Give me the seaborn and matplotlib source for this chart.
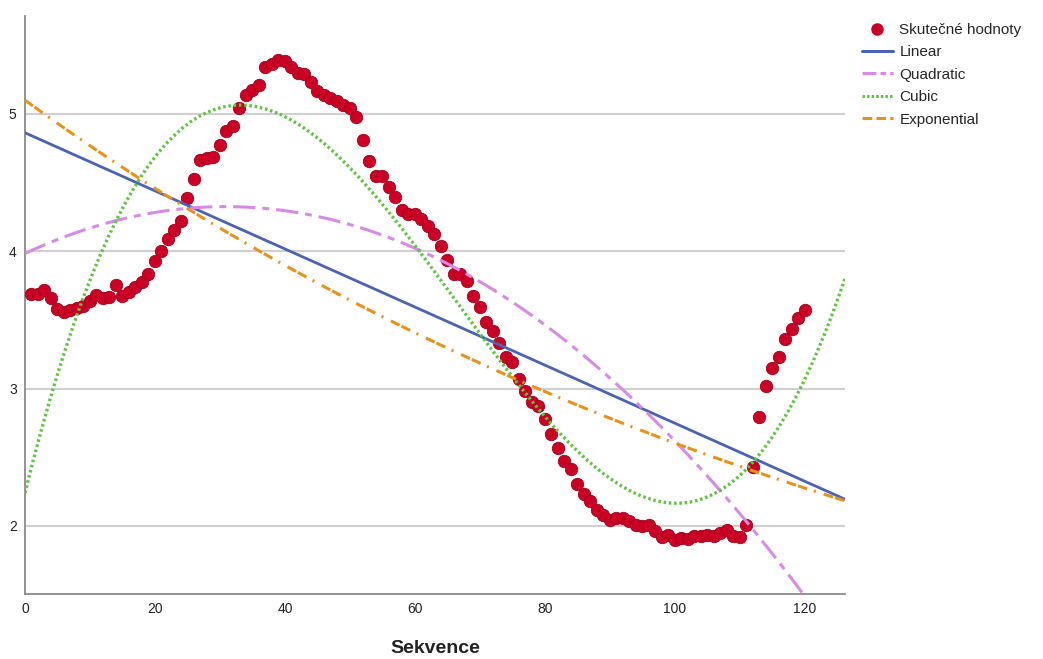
import matplotlib
matplotlib.use("Agg")
import matplotlib.pyplot as plt
from matplotlib.lines import Line2D
import numpy as np
import pandas as pd
import seaborn as sns

# sekvence 1..120 a odečtené hodnoty
sekvence = list(range(1, 121))
hodnoty = [
    3.69, 3.69, 3.72, 3.66, 3.58, 3.555, 3.57, 3.585, 3.60, 3.64,
    3.68, 3.66, 3.665, 3.75, 3.675, 3.70, 3.735, 3.775, 3.835, 3.925,
    4.00, 4.085, 4.15, 4.22, 4.385, 4.527, 4.665, 4.68, 4.685, 4.77,
    4.876, 4.91, 5.04, 5.135, 5.175, 5.206, 5.34, 5.36, 5.39, 5.38,
    5.34, 5.296, 5.29, 5.23, 5.167, 5.135, 5.11, 5.095, 5.065, 5.04,
    4.975, 4.81, 4.653, 4.544, 4.544, 4.466, 4.39, 4.30, 4.27, 4.27,
    4.233, 4.185, 4.127, 4.04, 3.937, 3.835, 3.83, 3.78, 3.67, 3.59,
    3.486, 3.418, 3.328, 3.23, 3.19, 3.07, 2.98, 2.90, 2.87, 2.775,
    2.67, 2.567, 2.475, 2.414, 2.307, 2.234, 2.18, 2.114, 2.08, 2.045,
    2.06, 2.057, 2.033, 2.004, 2.00, 2.004, 1.96, 1.92, 1.934, 1.90,
    1.91, 1.905, 1.93, 1.93, 1.936, 1.924, 1.95, 1.97, 1.924, 1.92,
    2.004, 2.43, 2.79, 3.015, 3.146, 3.23, 3.357, 3.433, 3.51, 3.573,
]
x_ticks = [0, 20, 40, 60, 80, 100, 120]
y_ticks = [2, 3, 4, 5]

df = pd.DataFrame({"Sekvence": sekvence, "hodnota": hodnoty})

plt.rcParams["lines.scale_dashes"] = False
sns.set_style("white")
plt.rcParams["font.family"] = ["Liberation Sans", "DejaVu Sans"]

fig = plt.figure(figsize=(10.43, 6.59), dpi=100)
ax = fig.add_axes([25 / 1043, 1 - 594 / 659, 820 / 1043, 578 / 659])
ax.set_xlim(0, 126.2)
ax.set_ylim(1.505, 5.71)

blue = "#4a63b4"
violet = "#d88ae8"
green = "#5cc63c"
orange = "#ea9118"
red = "#cc0025"

ax.set_yticks(y_ticks)
ax.set_xticks(x_ticks)
ax.grid(axis="y", color="#d0d0d0", linewidth=1.5)
ax.set_axisbelow(True)

sns.scatterplot(data=df, x="Sekvence", y="hodnota", ax=ax, color=red,
                edgecolor="#a3001c", linewidth=0.6, s=80, zorder=3,
                legend=False)

sns.regplot(data=df, x="Sekvence", y="hodnota", ax=ax, order=1, ci=None,
            scatter=False, truncate=False,
            line_kws=dict(color=blue, lw=2.0, zorder=4))
sns.regplot(data=df, x="Sekvence", y="hodnota", ax=ax, order=2, ci=None,
            scatter=False, truncate=False,
            line_kws=dict(color=violet, lw=2.2, dashes=(16, 5, 5, 5),
                          zorder=4))
sns.regplot(data=df, x="Sekvence", y="hodnota", ax=ax, order=3, ci=None,
            scatter=False, truncate=False,
            line_kws=dict(color=green, lw=2.4, dashes=(1.8, 2.0),
                          zorder=4))

# exponenciální model: ln(y) = ln(b0) + b1*x
b1, lnb0 = np.polyfit(df["Sekvence"], np.log(df["hodnota"]), 1)
grid_x = np.linspace(0, 126.2, 200)
exp_df = pd.DataFrame({"x": grid_x, "y": np.exp(lnb0) * np.exp(b1 * grid_x)})
sns.lineplot(data=exp_df, x="x", y="y", ax=ax, color=orange, lw=2.2,
             zorder=4)
ax.lines[-1].set_dashes((7, 1.5, 7, 5, 1.5, 6))

if ax.get_legend() is not None:
    ax.get_legend().remove()

ax.set_xlim(0, 126.2)
ax.set_ylim(1.505, 5.71)

for side in ["top", "right"]:
    ax.spines[side].set_visible(False)
for side in ["left", "bottom"]:
    ax.spines[side].set_color("#8a8a8a")
    ax.spines[side].set_linewidth(1.3)
ax.tick_params(length=0, labelsize=10, colors="#222222", pad=6)
ax.set_ylabel("")
ax.set_xlabel("Sekvence", fontsize=14, fontweight="bold", labelpad=17,
              color="#222222")

handles = [
    Line2D([], [], ls="none", marker="o", color=red, markersize=8),
    Line2D([], [], color=blue, lw=2.2),
    Line2D([], [], color=violet, lw=2.2, dashes=(10, 3, 4, 3)),
    Line2D([], [], color=green, lw=2.2, dashes=(1.8, 1.5)),
    Line2D([], [], color=orange, lw=2.2, dashes=(7, 3)),
]
labels = ["Skutečné hodnoty", "Linear", "Quadratic", "Cubic", "Exponential"]
fig.legend(handles, labels, loc="upper left",
           bbox_to_anchor=(862 / 1043, 1 - 23 / 659),
           frameon=False, fontsize=11, handlelength=2.0, handletextpad=0.45,
           labelspacing=0.55, borderaxespad=0, borderpad=0)

fig.savefig("out.png", dpi=100)
